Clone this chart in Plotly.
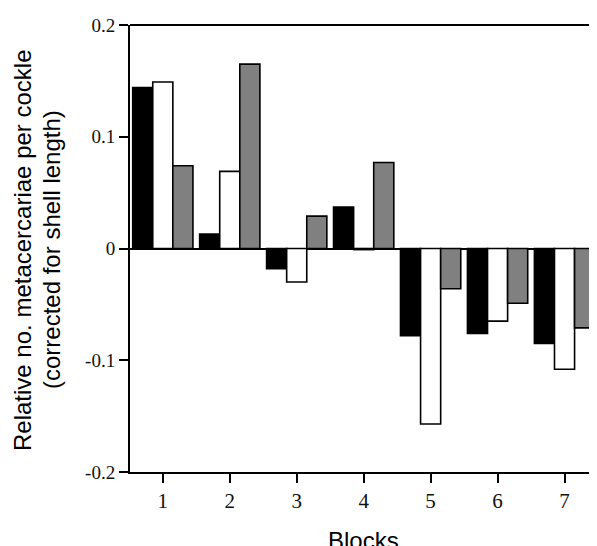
import plotly.graph_objects as go

blocks = [1, 2, 3, 4, 5, 6, 7]
series_black = [0.144, 0.013, -0.018, 0.037, -0.078, -0.076, -0.085]
series_white = [0.149, 0.069, -0.030, -0.001, -0.157, -0.065, -0.108]
series_gray = [0.074, 0.165, 0.029, 0.077, -0.036, -0.049, -0.071]
ytick_vals = [0.2, 0.1, 0, -0.1, -0.2]
ytick_text = ["0.2", "0.1", "0", "-0.1", "-0.2"]

OFF = 8  # page body margin
W, H = 597 - OFF, 546 - OFF
L, R, T, B = 130 - OFF, 1, 25 - OFF, 74
pw = W - L - R
ph = H - T - B

fig = go.Figure()
for vals, col in [(series_black, "#000000"), (series_white, "#ffffff"), (series_gray, "#808080")]:
    fig.add_trace(go.Bar(x=blocks, y=vals, marker=dict(color=col, line=dict(color="black", width=1.6)),
                         showlegend=False))

serif = "Liberation Serif, Times New Roman, serif"
sans = "Liberation Sans, Arial, sans-serif"

fig.update_layout(
    width=W, height=H, margin=dict(l=L, r=R, t=T, b=B),
    paper_bgcolor="white", plot_bgcolor="white",
    barmode="group", bargap=0.1, bargroupgap=0,
    xaxis=dict(range=[0.51, 7.47], tickvals=blocks, ticktext=[str(b) for b in blocks],
               showline=True, linecolor="black", linewidth=2, ticks="outside", ticklen=9,
               tickwidth=2, tickcolor="black", showgrid=False, zeroline=False,
               tickfont=dict(family=serif, size=21, color="#111111")),
    yaxis=dict(range=[-0.2, 0.2], tickvals=ytick_vals, ticktext=ytick_text,
               showline=True, linecolor="black", linewidth=2, ticks="outside", ticklen=9,
               tickwidth=2, tickcolor="black", showgrid=False,
               zeroline=True, zerolinecolor="black", zerolinewidth=1.6,
               tickfont=dict(family=serif, size=19, color="#111111")),
    shapes=[
        dict(type="line", xref="paper", yref="paper", x0=0, x1=1, y0=1, y1=1,
             line=dict(color="black", width=2)),
        dict(type="line", xref="paper", yref="paper", x0=1, x1=1, y0=0, y1=1,
             line=dict(color="#aaaaaa", width=1)),
    ],
    annotations=[
        dict(text="Relative no. metacercariae per cockle", textangle=-90, showarrow=False,
             xref="paper", yref="paper", x=(22 - 130) / pw, y=(472 - 250) / ph,
             xanchor="center", yanchor="middle", font=dict(family=sans, size=24, color="black")),
        dict(text="(corrected for shell length)", textangle=-90, showarrow=False,
             xref="paper", yref="paper", x=(51 - 130) / pw, y=(472 - 250) / ph,
             xanchor="center", yanchor="middle", font=dict(family=sans, size=24, color="black")),
        dict(text="Blocks", showarrow=False,
             xref="paper", yref="paper", x=0.5, y=-(525 - 472) / ph,
             xanchor="center", yanchor="top", font=dict(family=sans, size=24, color="black")),
    ],
)

fig.write_html("out.html")
